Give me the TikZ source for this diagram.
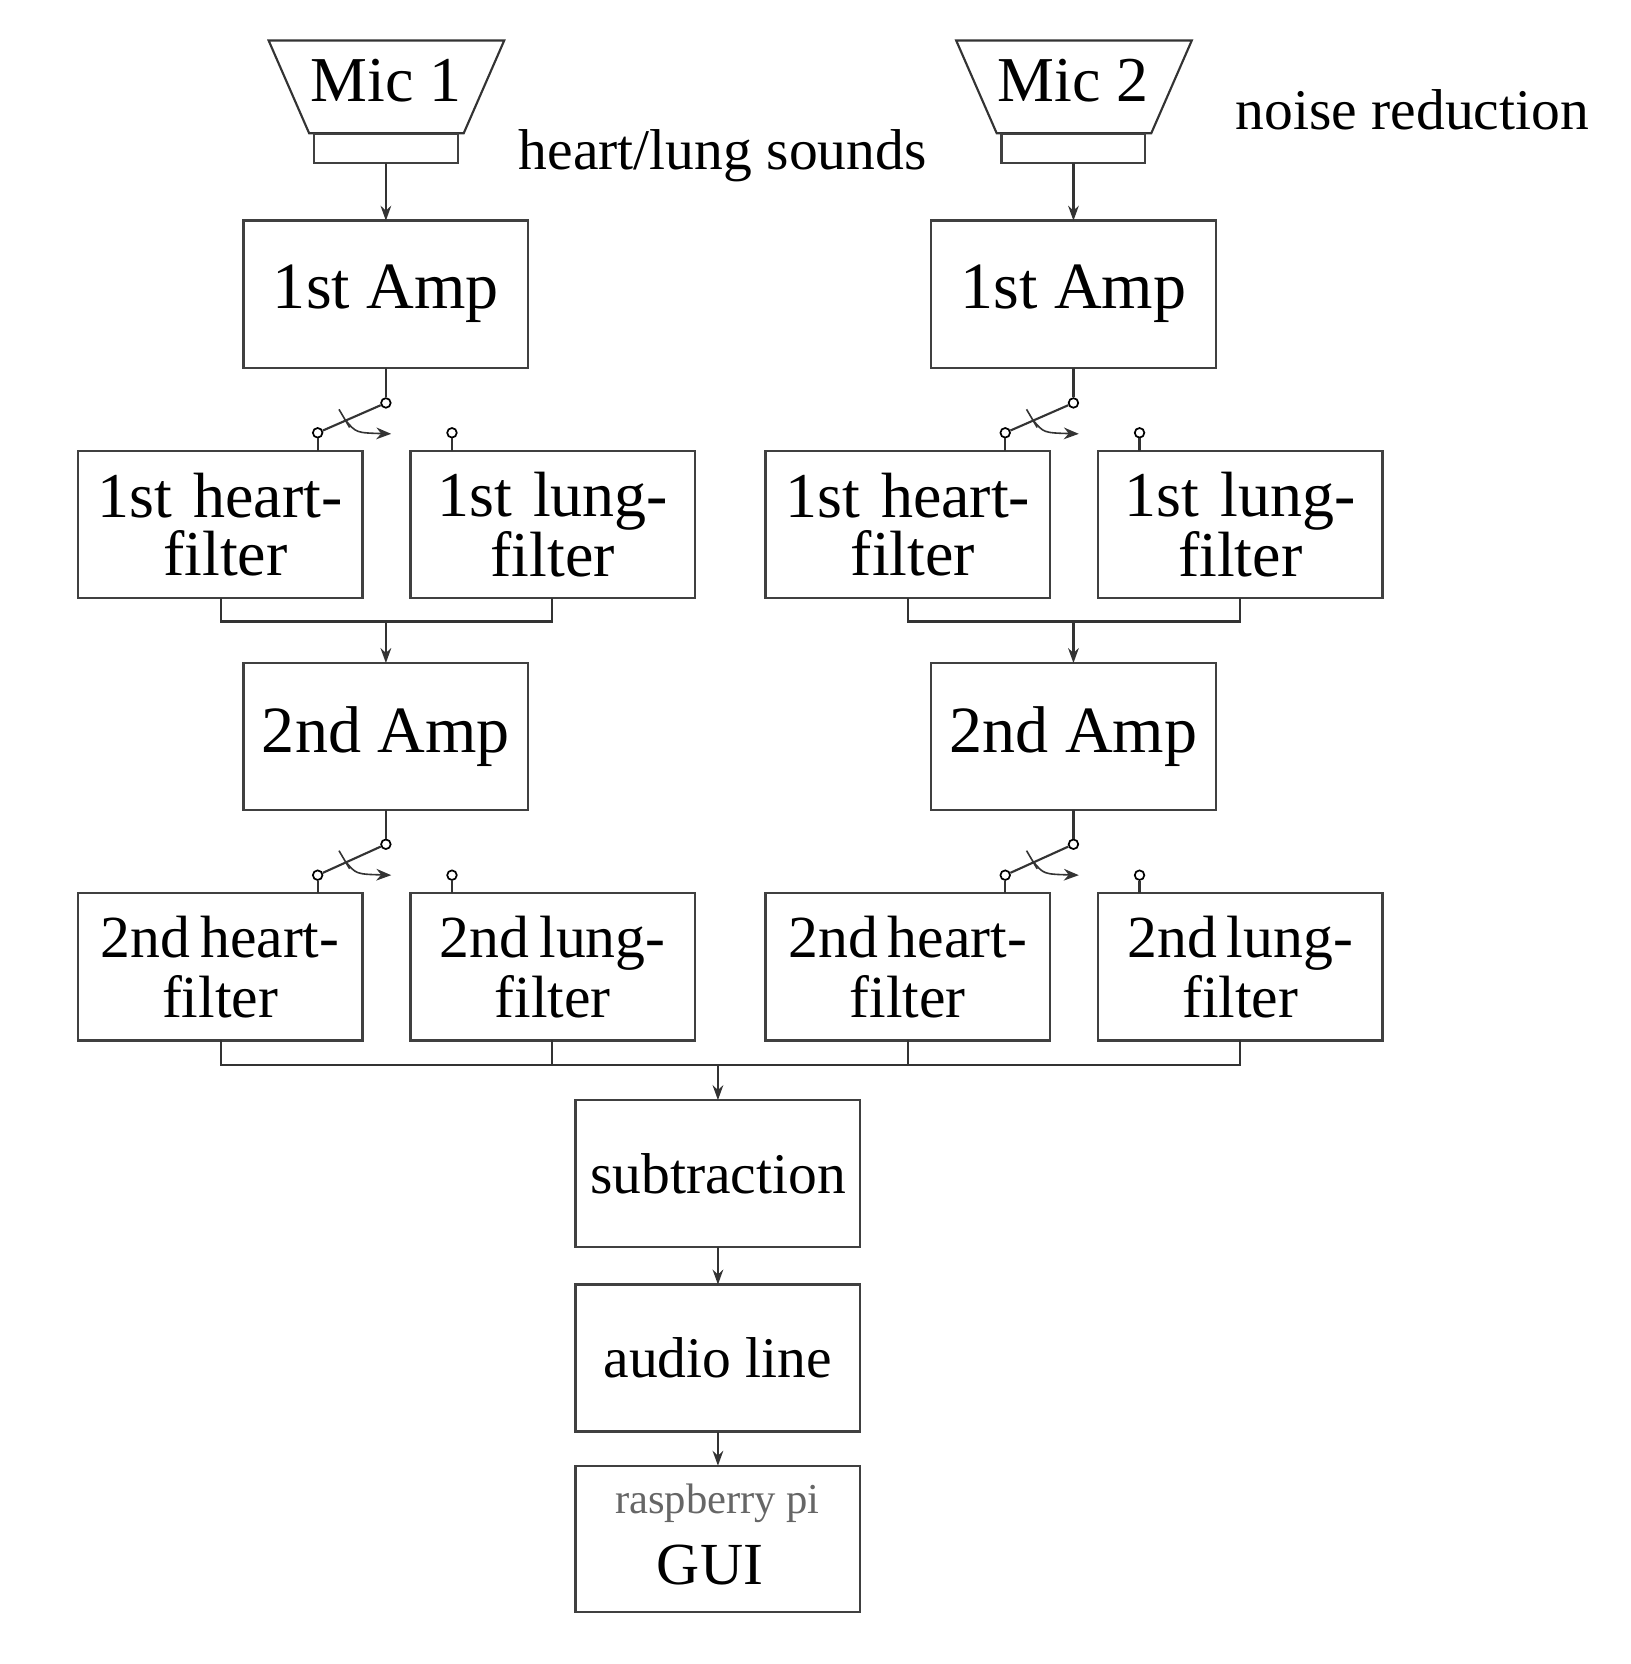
\documentclass[tikz,border=0pt]{standalone}
\usepackage{fontspec}
\setmainfont{Liberation Serif}
\usetikzlibrary{arrows.meta}
\begin{document}
\begin{tikzpicture}[x=1pt,y=-1pt,
 box/.style={draw=black!75,line width=2.2pt,minimum width=267pt,minimum height=138pt,inner sep=0pt,outer sep=0pt,anchor=north west,align=center},
 big/.style={font=\fontsize{62}{52}\selectfont},
 mid/.style={font=\fontsize{60}{54}\selectfont},
 mid2/.style={font=\fontsize{56}{56}\selectfont},
 ln/.style={draw=black!80,line width=2pt},
 arr/.style={ln,-{Stealth[length=14pt,width=10pt]}},
 ctc/.style={circle,draw,line width=1.6pt,minimum size=9pt,inner sep=0pt,fill=white}]
\useasboundingbox (0,0) rectangle (1530,1561);
\foreach \dx/\m/\n in {0/1/a,645/2/b}{
 \begin{scope}[xshift=\dx]
 \draw[ln] (252,38) -- (473,38) -- (435,125) -- (290,125) -- cycle;
 \node[font=\fontsize{60}{60}\selectfont] (mic\n) at (362,76) {Mic \m};
 \node[draw=black!75,line width=2pt,minimum width=135pt,minimum height=27pt,inner sep=0pt,outer sep=0pt] (base\n) at (362,139) {};
 \node[box,big] (amp1\n) at (228.5,207) {1st Amp};
 \node[box,mid,text width=265pt] (h1\n) at (73,423) {1st heart-\\\hspace*{10pt}filter};
 \node[box,mid,text width=265pt] (l1\n) at (385,423) {1st lung-\\filter};
 \node[box,big] (amp2\n) at (228.5,622) {2nd Amp};
 \node[box,mid2,text width=265pt] (h2\n) at (73,838) {2nd\,heart-\\filter};
 \node[box,mid2,text width=265pt] (l2\n) at (385,838) {2nd\,lung-\\filter};
 \draw[arr] (base\n.south) -- (amp1\n.north);
 % switch 1
 \node[ctc] (s1c\n) at (362,378) {};
 \node[ctc] (s1h\n) at (298,406) {};
 \node[ctc] (s1l\n) at (424,406) {};
 \draw[ln] (amp1\n.south) -- (s1c\n);
 \draw[ln] (s1c\n) -- (s1h\n);
 \draw[ln,line width=1.5pt] (318,384) -- (328,401);
 \draw[ln,line width=1.5pt,-{Stealth[length=14pt,width=11pt]}] (324,394) .. controls (334,406) .. (367,407);
 \draw[ln] (s1h\n) -- (298,423);
 \draw[ln] (s1l\n) -- (424,423);
 \coordinate (j1\n) at (362,583);
 \draw[ln] (207,561) -- (207,583) -- (518,583) -- (518,561);
 \draw[arr] (j1\n) -- (amp2\n.north);
 % switch 2
 \node[ctc] (s2c\n) at (362,792) {};
 \node[ctc] (s2h\n) at (298,821) {};
 \node[ctc] (s2l\n) at (424,821) {};
 \draw[ln] (amp2\n.south) -- (s2c\n);
 \draw[ln] (s2c\n) -- (s2h\n);
 \draw[ln,line width=1.5pt] (318,798) -- (328,815);
 \draw[ln,line width=1.5pt,-{Stealth[length=14pt,width=11pt]}] (324,808) .. controls (334,820) .. (367,821);
 \draw[ln] (s2h\n) -- (298,838);
 \draw[ln] (s2l\n) -- (424,838);
 \end{scope}}
\draw[ln] (207,976) -- (207,999) -- (1163,999) -- (1163,976);
\draw[ln] (518,976) -- (518,999);
\draw[ln] (852,976) -- (852,999);
\coordinate (bus) at (673.5,999);
\node[box,font=\fontsize{54}{54}\selectfont] (sub) at (540,1032) {subtraction};
\node[box,font=\fontsize{54}{54}\selectfont] (aud) at (540,1205) {audio line};
\node[box,minimum height=137pt] (gui) at (540,1375) {};
\node[font=\fontsize{40}{40}\selectfont,text=black!60] (rpi) at (673,1410) {raspberry pi};
\node[font=\fontsize{56}{56}\selectfont] (guit) at (666,1468) {GUI};
\draw[arr] (bus) -- (sub.north);
\draw[arr] (sub.south) -- (aud.north);
\draw[arr] (aud.south) -- (gui.north);
\node[font=\fontsize{54}{54}\selectfont] (hl) at (678,146) {heart/lung sounds};
\node[font=\fontsize{54}{54}\selectfont] (nr) at (1325,103) {noise reduction};
\end{tikzpicture}
\end{document}
